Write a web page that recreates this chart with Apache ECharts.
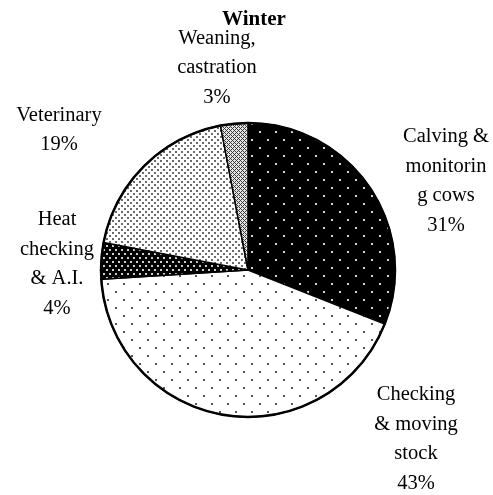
<!DOCTYPE html>
<html>
<head>
<meta charset="utf-8">
<script src="https://cdn.jsdelivr.net/npm/echarts@6/dist/echarts.min.js"></script>
<style>
  html, body { margin: 0; padding: 0; background: #fff; }
  #chart { width: 493px; height: 495px; }
</style>
</head>
<body>
<div id="chart"></div>
<script>
const categories = [
  "Calving &\nmonitorin\ng cows",
  "Checking\n& moving\nstock",
  "Heat\nchecking\n& A.I.",
  "Veterinary",
  "Weaning,\ncastration",
];
const shares = [31, 43, 4, 19, 3];

// Position des étiquettes (centre du bloc de texte), en pixels
const labelPos = [
  [446, 181],
  [416, 439],
  [57, 264],
  [59, 130],
  [217, 68],
];

const FONT = "'Liberation Serif', 'Times New Roman', serif";

function makePattern(w, h, bg, draw) {
  const c = document.createElement("canvas");
  c.width = w;
  c.height = h;
  const ctx = c.getContext("2d");
  ctx.fillStyle = bg;
  ctx.fillRect(0, 0, w, h);
  draw(ctx);
  return { image: c, repeat: "repeat" };
}

function dots(points, color, size) {
  return (ctx) => {
    ctx.fillStyle = color;
    for (const [x, y] of points) ctx.fillRect(x, y, size, size);
  };
}

const patterns = [
  // noir, points blancs espacés
  makePattern(16, 16, "#000", dots([[3, 3], [11, 11]], "#d8d8d8", 2)),
  // blanc, points gris espacés
  makePattern(16, 16, "#fff", dots([[3, 3], [11, 11]], "#555", 2)),
  // noir, points blancs serrés
  makePattern(6, 8, "#000", dots([[1, 1], [4, 5]], "#cfcfcf", 2)),
  // blanc, points gris serrés
  makePattern(6, 6, "#fff", dots([[1, 1], [4, 4]], "#6a6a6a", 2)),
  // treillis en X
  makePattern(4, 4, "#e6e6e6", dots([[0, 0], [1, 1], [2, 2], [3, 3], [1, 3], [3, 1]], "#3a3a3a", 1)),
];

const chart = echarts.init(document.getElementById("chart"));

chart.setOption({
  animation: false,
  title: {
    text: "Winter",
    left: 249,
    textAlign: "center",
    top: 4,
    textStyle: { fontFamily: FONT, fontSize: 21, fontWeight: "bold", color: "#000" },
  },
  series: [
    {
      type: "pie",
      center: [248, 270],
      radius: [0, 147],
      startAngle: 90,
      clockwise: true,
      silent: true,
      data: categories.map((name, i) => ({
        name,
        value: shares[i],
        itemStyle: { color: patterns[i] },
      })),
      itemStyle: { borderColor: "#000", borderWidth: 1.5 },
      label: {
        show: true,
        position: "outside",
        overflow: "none",
        fontFamily: FONT,
        fontSize: 20.5,
        lineHeight: 29.5,
        color: "#000",
        align: "center",
        formatter: (p) => `${p.name}\n${p.value}%`,
      },
      labelLine: { show: false },
      labelLayout: (params) => ({
        x: labelPos[params.dataIndex][0],
        y: labelPos[params.dataIndex][1],
        align: "center",
        verticalAlign: "middle",
      }),
    },
    {
      // contour extérieur plus épais
      type: "pie",
      center: [248, 270],
      radius: [0, 147],
      silent: true,
      data: [{ value: 1, itemStyle: { color: "transparent", borderColor: "#000", borderWidth: 2.5 } }],
      label: { show: false },
      labelLine: { show: false },
    },
  ],
});
</script>
</body>
</html>
